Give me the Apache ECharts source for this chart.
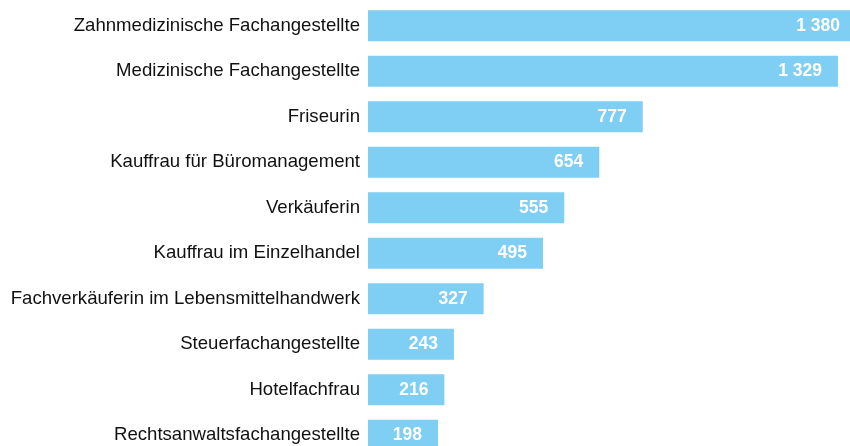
<!DOCTYPE html>
<html>
<head>
<meta charset="utf-8">
<script src="https://cdn.jsdelivr.net/npm/echarts@6/dist/echarts.min.js"></script>
<style>
  html, body { margin: 0; padding: 0; background: #fff; }
  #chart { width: 850px; height: 446px; }
</style>
</head>
<body>
<div id="chart"></div>
<script>
// categories top to bottom
const categories = [
  'Zahnmedizinische Fachangestellte',
  'Medizinische Fachangestellte',
  'Friseurin',
  'Kauffrau für Büromanagement',
  'Verkäuferin',
  'Kauffrau im Einzelhandel',
  'Fachverkäuferin im Lebensmittelhandwerk',
  'Steuerfachangestellte',
  'Hotelfachfrau',
  'Rechtsanwaltsfachangestellte'
]
const values = [1380, 1329, 777, 654, 555, 495, 327, 243, 216, 198]

// thousands with a space, e.g. 1 380
function fmt(v) {
  return String(v).replace(/\B(?=(\d{3})+(?!\d))/g, ' ')
}

const chart = echarts.init(document.getElementById('chart'))
chart.setOption({
  animation: false,
  grid: {
    left: 368,
    width: 488, // longest bar runs a bit past the right edge
    top: 3,
    height: 455,
    outerBoundsMode: 'none',
    containLabel: false
  },
  xAxis: {
    type: 'value',
    min: 0,
    max: 1380,
    show: false
  },
  yAxis: {
    type: 'category',
    inverse: true,
    data: categories,
    axisLine: { show: false },
    axisTick: { show: false },
    axisLabel: {
      margin: 8,
      color: '#111',
      fontFamily: 'Liberation Sans, Arial, sans-serif',
      fontSize: 18.6
    }
  },
  series: [{
    type: 'bar',
    data: values,
    barWidth: 31,
    itemStyle: { color: '#7fcef3' },
    label: {
      show: true,
      position: 'insideRight',
      distance: 16,
      color: '#fff',
      fontWeight: 'bold',
      fontFamily: 'Liberation Sans, Arial, sans-serif',
      fontSize: 17.5,
      formatter: p => fmt(p.value)
    }
  }]
})
</script>
</body>
</html>
